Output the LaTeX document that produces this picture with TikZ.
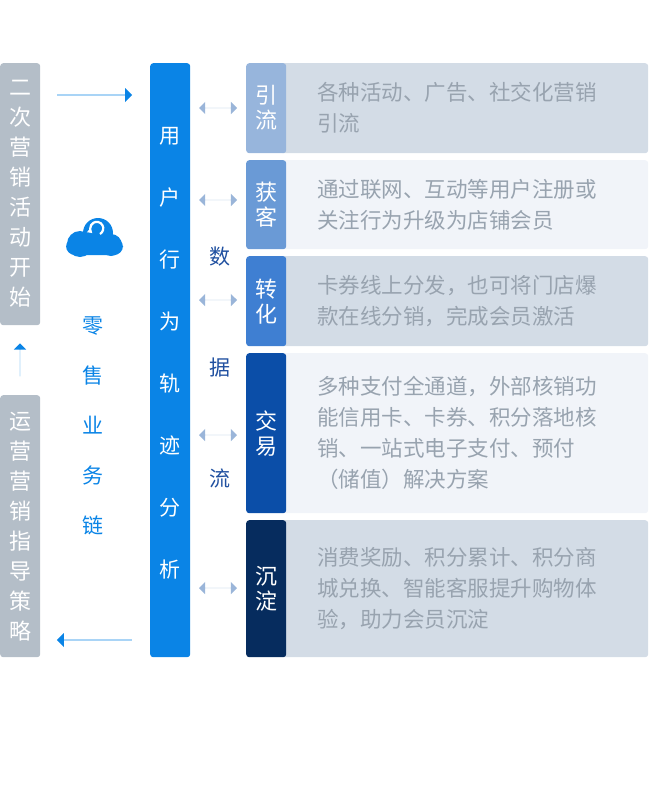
\documentclass[tikz,border=0pt]{standalone}
\usepackage{fontspec}
\setmainfont{Noto Sans CJK SC}
\usetikzlibrary{positioning,shapes.arrows,arrows.meta}
\definecolor{sidegray}{HTML}{B4BEC8}
\definecolor{barblue}{HTML}{0A84E6}
\definecolor{dblblue}{HTML}{9AB5D9}
\definecolor{flowblue}{HTML}{2050A0}
\definecolor{bgdark}{HTML}{D3DCE6}
\definecolor{bglight}{HTML}{F1F4F9}
\definecolor{txtgray}{HTML}{98A3AF}
\definecolor{labA}{HTML}{97B5DC}
\definecolor{labB}{HTML}{6A9AD6}
\definecolor{labC}{HTML}{3F7FD2}
\definecolor{labD}{HTML}{0B4EA8}
\definecolor{labE}{HTML}{062C5E}
\begin{document}
\begin{tikzpicture}[x=1pt,y=-1pt,
    sidebox/.style={fill=sidegray, rounded corners=3pt, minimum width=40pt, anchor=north west, inner sep=0pt, text=white, align=center, font=\fontsize{22}{30}\selectfont},
    bigarrow/.style={single arrow, fill=barblue, minimum width=14pt, single arrow head extend=5pt, minimum height=75pt, inner sep=0pt},
    dblarrow/.style={double arrow, fill=dblblue, minimum width=12pt, double arrow head extend=6pt, minimum height=38pt, inner sep=0pt},
    content/.style={anchor=north west, minimum width=368pt, inner sep=0pt, text width=346pt, align=left, text=txtgray, rounded corners=3pt, font=\fontsize{21.5}{31}\selectfont},
    label/.style={anchor=north west, minimum width=40pt, inner sep=0pt, text=white, align=center, font=\fontsize{22}{25}\selectfont},
    flow/.style={text=flowblue, font=\fontsize{21}{25}\selectfont}
]
\useasboundingbox (0,0) rectangle (650,800);

% left side
\node[sidebox, minimum height=262pt] (start) at (0,63) {二\\次\\营\\销\\活\\动\\开\\始};
\node[sidebox, minimum height=262pt] (guide) at (0,395) {运\\营\\营\\销\\指\\导\\策\\略};
\node[bigarrow, shape border rotate=90, minimum height=33pt, minimum width=12pt, single arrow head extend=6pt] (up) at (20,360) {};
\node[bigarrow] (toright) at (94.5,95) {};
\node[bigarrow, shape border rotate=180] (toleft) at (94.5,640) {};

% cloud
\fill[barblue] (80,244) circle (13) (98,233) circle (15) (111,245) circle (11);
\fill[barblue, rounded corners=9pt] (66,238) rectangle (123,255);
\draw[white, line width=2.2pt, -{Latex[length=5pt,width=6pt]}] (100,234) arc (60:-230:6.5);

\node[text=barblue, align=center, font=\fontsize{21}{50}\selectfont, anchor=north] (chain) at (93,313) {零\\售\\业\\务\\链};

% bar
\node[fill=barblue, rounded corners=3pt, minimum width=40pt, minimum height=594pt, anchor=north west, inner sep=0pt] (bar) at (150,63) {};
\node[text=white, align=center, font=\fontsize{21}{62}\selectfont, anchor=north] (bartext) at (170,124) {用\\户\\行\\为\\轨\\迹\\分\\析};

\node[flow] (shu) at (220,257) {数};
\node[flow] (ju) at (220,368) {据};
\node[flow] (liu) at (220,478) {流};

% rows
\node[content, fill=bgdark, minimum height=90pt] (c1) at (280,63) {\hspace*{26pt}各种活动、广告、社交化营销\\\hspace*{26pt}引流};
\node[content, fill=bglight, minimum height=89pt] (c2) at (280,160) {\hspace*{26pt}通过联网、互动等用户注册或\\\hspace*{26pt}关注行为升级为店铺会员};
\node[content, fill=bgdark, minimum height=90pt] (c3) at (280,256) {\hspace*{26pt}卡券线上分发，也可将门店爆\\\hspace*{26pt}款在线分销，完成会员激活};
\node[content, fill=bglight, minimum height=160pt] (c4) at (280,353) {\hspace*{26pt}多种支付全通道，外部核销功\\\hspace*{26pt}能信用卡、卡券、积分落地核\\\hspace*{26pt}销、一站式电子支付、预付\\\hspace*{26pt}（储值）解决方案};
\node[content, fill=bgdark, minimum height=137pt] (c5) at (280,520) {\hspace*{26pt}消费奖励、积分累计、积分商\\\hspace*{26pt}城兑换、智能客服提升购物体\\\hspace*{26pt}验，助力会员沉淀};

\node[label, fill=labA, minimum height=90pt, rounded corners=3pt] (l1) at (246,63) {引\\流};
\node[label, fill=labB, minimum height=89pt, rounded corners=3pt] (l2) at (246,160) {获\\客};
\node[label, fill=labC, minimum height=90pt, rounded corners=3pt] (l3) at (246,256) {转\\化};
\node[label, fill=labD, minimum height=160pt, rounded corners=3pt] (l4) at (246,353) {交\\易};
\node[label, fill=labE, minimum height=137pt, rounded corners=3pt] (l5) at (246,520) {沉\\淀};

\node[dblarrow] (d1) at (218,108) {};
\node[dblarrow] (d2) at (218,200) {};
\node[dblarrow] (d3) at (218,300) {};
\node[dblarrow] (d4) at (218,435) {};
\node[dblarrow] (d5) at (218,588) {};
\end{tikzpicture}
\end{document}
